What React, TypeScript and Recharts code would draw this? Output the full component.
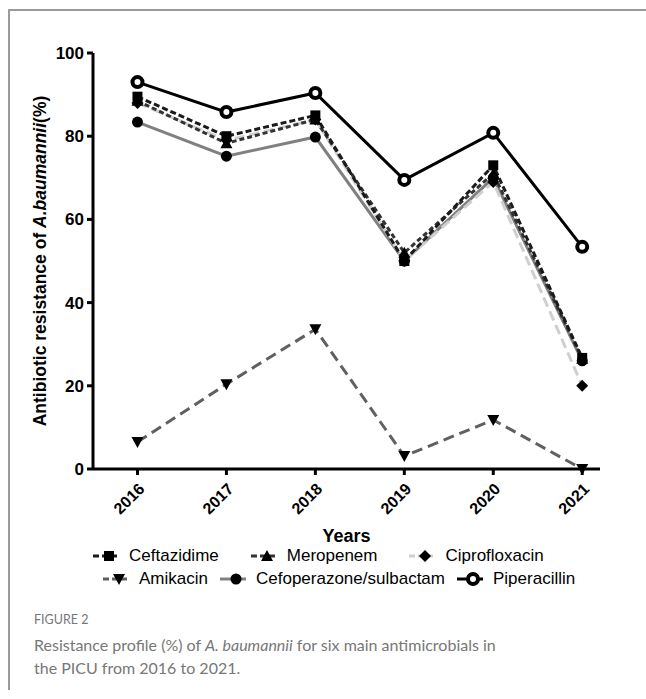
import React from "react";
import { LineChart, Line, XAxis, YAxis } from "recharts";

const years = [2016, 2017, 2018, 2019, 2020, 2021];
const ceftazidime = [89.5, 80, 85, 50, 73, 26.7];
const meropenem = [88.5, 78.3, 84, 52, 71, 26.5];
const ciprofloxacin = [88, 79, 84, 50, 69, 20];
const amikacin = [6.5, 20.4, 33.6, 3.1, 11.8, 0];
const cefoperazone = [83.4, 75.2, 79.8, 50, 70, 26];
const piperacillin = [93, 85.8, 90.4, 69.5, 80.8, 53.4];
const yTicks = [0, 20, 40, 60, 80, 100];

const data = years.map((year, i) => ({
  year,
  ceftazidime: ceftazidime[i],
  meropenem: meropenem[i],
  ciprofloxacin: ciprofloxacin[i],
  amikacin: amikacin[i],
  cefoperazone: cefoperazone[i],
  piperacillin: piperacillin[i],
}));

type Shape = "square" | "up" | "diamond" | "down" | "dot" | "ring";

const SERIES: { key: string; name: string; color: string; dash?: string; shape: Shape }[] = [
  { key: "cefoperazone", name: "Cefoperazone/sulbactam", color: "#808080", shape: "dot" },
  { key: "ciprofloxacin", name: "Ciprofloxacin", color: "#cfcfcf", dash: "10 5", shape: "diamond" },
  { key: "amikacin", name: "Amikacin", color: "#606060", dash: "11 6", shape: "down" },
  { key: "meropenem", name: "Meropenem", color: "#333333", dash: "5 3", shape: "up" },
  { key: "ceftazidime", name: "Ceftazidime", color: "#1a1a1a", dash: "6 3", shape: "square" },
  { key: "piperacillin", name: "Piperacillin", color: "#000000", shape: "ring" },
];

const LEGEND_ROWS = [
  ["ceftazidime", "meropenem", "ciprofloxacin"],
  ["amikacin", "cefoperazone", "piperacillin"],
];

const FONT = "'Liberation Sans', Arial, sans-serif";

function marker(shape: Shape, cx: number, cy: number, key?: string) {
  switch (shape) {
    case "square":
      return <rect key={key} x={cx - 5} y={cy - 5} width={10} height={10} fill="#000" />;
    case "up":
      return <polygon key={key} points={`${cx},${cy - 6} ${cx - 6},${cy + 5} ${cx + 6},${cy + 5}`} fill="#000" />;
    case "down":
      return <polygon key={key} points={`${cx - 6},${cy - 5} ${cx + 6},${cy - 5} ${cx},${cy + 6}`} fill="#000" />;
    case "diamond":
      return <polygon key={key} points={`${cx},${cy - 6} ${cx + 6},${cy} ${cx},${cy + 6} ${cx - 6},${cy}`} fill="#000" />;
    case "dot":
      return <circle key={key} cx={cx} cy={cy} r={5.5} fill="#000" />;
    default:
      return <circle key={key} cx={cx} cy={cy} r={5} fill="#fff" stroke="#000" strokeWidth={4} />;
  }
}

function YearTick(props: any) {
  const { x, y, payload } = props;
  return (
    <g transform={`translate(${x + 8},${y + 13})`}>
      <text transform="rotate(-45)" textAnchor="end" fontFamily={FONT} fontWeight="bold" fontSize={16} fill="#000">
        {payload.value}
      </text>
    </g>
  );
}

function LegendBlock() {
  return (
    <div style={{ position: "absolute", left: 0, top: 544, width: 646, fontFamily: FONT, fontSize: 17, color: "#000" }}>
      {LEGEND_ROWS.map((row, r) => (
        <div
          key={r}
          style={{ display: "flex", alignItems: "center", height: 23, paddingLeft: r === 0 ? 93 : 103, gap: r === 0 ? 32 : 12 }}
        >
          {row.map((k) => {
            const s = SERIES.find((d) => d.key === k)!;
            return (
              <div key={k} style={{ display: "flex", alignItems: "center", gap: 8 }}>
                <svg width={28} height={14}>
                  <line x1={0} y1={7} x2={26} y2={7} stroke={s.color} strokeWidth={3} strokeDasharray={s.dash ? "6 3" : undefined} />
                  {marker(s.shape, 16, 7)}
                </svg>
                <span>{s.name}</span>
              </div>
            );
          })}
        </div>
      ))}
    </div>
  );
}

export default function App() {
  return (
    <div style={{ position: "absolute", left: 0, top: 0, width: 646, height: 699, background: "#fff" }}>
      <div style={{ position: "absolute", left: 8, top: 9, width: 638, height: 679, borderTop: "2px solid #9a9a9a", borderLeft: "2px solid #9a9a9a" }} />
      <div style={{ position: "absolute", left: 0, top: 0 }}>
        <LineChart width={646} height={550} data={data} margin={{ top: 53, right: 46, left: 0, bottom: 11 }}>
          <XAxis
            dataKey="year"
            type="number"
            domain={[2015.5, 2021.2]}
            ticks={years}
            allowDataOverflow
            height={70}
            axisLine={{ stroke: "#000", strokeWidth: 3 }}
            tickLine={{ stroke: "#000", strokeWidth: 3 }}
            tickSize={6}
            tick={<YearTick />}
            label={({ viewBox }: any) => (
              <text x={viewBox.x + viewBox.width / 2} y={542} textAnchor="middle" fontFamily={FONT} fontWeight="bold" fontSize={18} fill="#000">
                Years
              </text>
            )}
          />
          <YAxis
            width={93}
            domain={[0, 100]}
            ticks={yTicks}
            axisLine={{ stroke: "#000", strokeWidth: 3 }}
            tickLine={{ stroke: "#000", strokeWidth: 3 }}
            tickSize={6}
            tickMargin={3}
            tick={{ fill: "#000", fontFamily: FONT, fontWeight: "bold", fontSize: 17 }}
            label={({ viewBox }: any) => (
              <text
                transform={`translate(46,${viewBox.y + viewBox.height / 2}) rotate(-90)`}
                textAnchor="middle"
                fontFamily={FONT}
                fontWeight="bold"
                fontSize={17.5}
                fill="#000"
              >
                Antibiotic resistance of <tspan fontStyle="italic">A.baumannii</tspan>(%)
              </text>
            )}
          />
          {SERIES.map((s) => (
            <Line
              key={s.key}
              dataKey={s.key}
              name={s.name}
              type="linear"
              stroke={s.color}
              strokeWidth={3}
              strokeDasharray={s.dash}
              isAnimationActive={false}
              dot={(p: any) => marker(s.shape, p.cx, p.cy, `${s.key}-${p.index}`)}
              activeDot={false}
            />
          ))}
        </LineChart>
      </div>
      <LegendBlock />
      <div style={{ position: "absolute", left: 34, top: 612, fontFamily: "Lato, sans-serif", color: "#777" }}>
        <div style={{ fontSize: 12.5 }}>FIGURE 2</div>
        <div style={{ fontSize: 16, lineHeight: "23px", marginTop: 6 }}>
          Resistance profile (%) of <i>A. baumannii</i> for six main antimicrobials in
          <br />
          the PICU from 2016 to 2021.
        </div>
      </div>
    </div>
  );
}
